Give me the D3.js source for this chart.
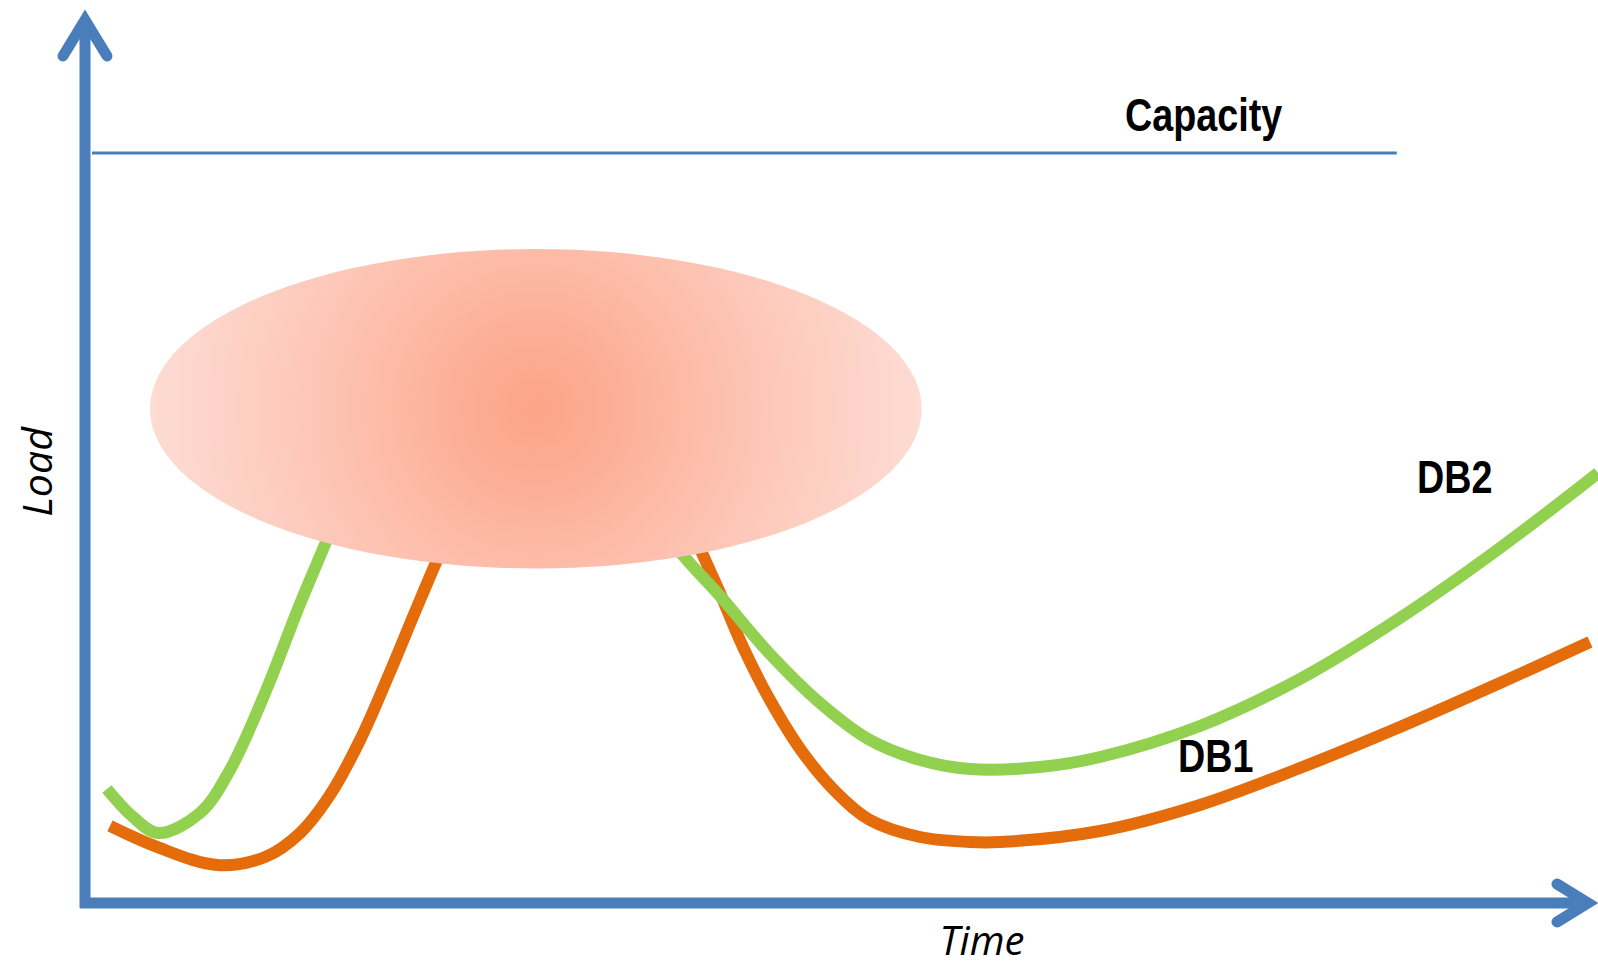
<!DOCTYPE html>
<html>
<head>
<meta charset="utf-8">
<script src="https://cdn.jsdelivr.net/npm/d3@7"></script>
<style>
  html, body { margin: 0; padding: 0; background: #ffffff; overflow: hidden; }
  svg { display: block; }
</style>
</head>
<body>
<svg id="chart" width="1598" height="964"></svg>
<script>
// ---- data (time 0..100, load 0..100 where 100 = capacity) ----
const db2Time = [1.45, 3.17, 4.82, 7.60, 9.58, 11.90, 14.21, 15.93, 17.51, 20.16, 24.12, 28.75, 34.04, 37.34,
                 39.79, 41.97, 45.27, 48.58, 51.88, 55.19, 58.49, 63.12, 67.09, 73.69, 80.30, 86.91, 93.52, 100];
const db2Load = [15.20, 11.47, 9.33, 12.00, 17.73, 28.00, 39.87, 48.13, 55.73, 65.73, 72.40, 71.07, 60.40, 51.73,
                 45.73, 40.93, 33.20, 26.67, 21.73, 19.07, 17.87, 18.13, 19.47, 23.60, 29.87, 38.00, 47.33, 57.33];
const db1Time = [1.65, 4.76, 8.72, 11.90, 14.21, 16.19, 18.18, 20.16, 21.81, 23.33, 24.79, 27.43, 31.39, 35.36, 38.66,
                 40.78, 41.97, 43.49, 45.27, 47.46, 49.70, 51.88, 55.19, 58.49, 60.48, 67.09, 73.69, 80.30, 86.91, 93.52, 99.47];
const db1Load = [10.27, 7.47, 5.07, 6.13, 9.33, 14.40, 21.73, 30.80, 38.80, 46.00, 52.40, 61.73, 67.07, 64.40, 56.40,
                 46.67, 41.33, 34.13, 27.07, 20.00, 14.67, 11.07, 8.80, 8.13, 8.13, 9.60, 13.07, 18.00, 23.47, 29.33, 34.80];
const capacityLoad = 100;
const capacityTime = [0.46, 86.7];
// hot-spot ellipse: centre time, centre load, half-width (time), half-height (load)
const hotSpot = [29.8, 65.9, 25.5, 21.3];
const labels = ["Capacity", "DB1", "DB2"];
const axisTitles = ["Time", "Load"];

// ---- scales ----
const x = d3.scaleLinear().domain([0, 100]).range([85, 1598]);
const y = d3.scaleLinear().domain([0, 100]).range([903, 153]);

const svg = d3.select("#chart");
const axisColor = "#4a7ebb";

// gradient for hot spot
const defs = svg.append("defs");
const cx = x(hotSpot[0]), cy = y(hotSpot[1]);
const rx = x(hotSpot[2]) - x(0), ry = y(0) - y(hotSpot[3]);
const grad = defs.append("radialGradient")
  .attr("id", "hot")
  .attr("gradientUnits", "userSpaceOnUse")
  .attr("cx", cx).attr("cy", cy).attr("r", rx)
  .attr("fx", cx).attr("fy", cy);
[[0, "#fca488"], [0.2, "#fcae96"], [0.45, "#fdbeab"], [0.7, "#fdccbf"], [1, "#fddcd3"]]
  .forEach(([o, c]) => grad.append("stop").attr("offset", o).attr("stop-color", c));

// capacity line
svg.append("line")
  .attr("x1", x(capacityTime[0])).attr("x2", x(capacityTime[1]))
  .attr("y1", y(capacityLoad)).attr("y2", y(capacityLoad))
  .attr("stroke", axisColor).attr("stroke-width", 3);

// series lines (DB1 under DB2)
const line = d3.line()
  .x(d => x(d[0])).y(d => y(d[1]))
  .curve(d3.curveCatmullRom.alpha(0.5));

svg.append("path")
  .datum(db1Time.map((t, i) => [t, db1Load[i]]))
  .attr("d", line)
  .attr("fill", "none").attr("stroke", "#e46c0a").attr("stroke-width", 12).attr("stroke-linecap", "butt");

svg.append("path")
  .datum(db2Time.map((t, i) => [t, db2Load[i]]))
  .attr("d", line)
  .attr("fill", "none").attr("stroke", "#92d050").attr("stroke-width", 12).attr("stroke-linecap", "butt");

// hot spot ellipse on top of the curves
svg.append("ellipse")
  .attr("cx", cx).attr("cy", cy).attr("rx", rx).attr("ry", ry)
  .attr("fill", "url(#hot)");

// axes (with arrows)
svg.append("line")
  .attr("x1", x(0)).attr("x2", x(0)).attr("y1", 908).attr("y2", 20)
  .attr("stroke", axisColor).attr("stroke-width", 11);
svg.append("polyline")
  .attr("points", `${x(0) - 22},56 ${x(0)},20 ${x(0) + 22},56`)
  .attr("fill", "none").attr("stroke", axisColor).attr("stroke-width", 11)
  .attr("stroke-linecap", "round").attr("stroke-linejoin", "miter").attr("stroke-miterlimit", 10);

svg.append("line")
  .attr("x1", 80).attr("x2", 1588).attr("y1", y(0)).attr("y2", y(0))
  .attr("stroke", axisColor).attr("stroke-width", 11);
svg.append("polyline")
  .attr("points", `1557,${y(0) - 19} 1588,${y(0)} 1557,${y(0) + 19}`)
  .attr("fill", "none").attr("stroke", axisColor).attr("stroke-width", 11)
  .attr("stroke-linecap", "round").attr("stroke-linejoin", "miter").attr("stroke-miterlimit", 10);

// labels (narrow bold face, emulated by horizontal scaling)
const labFont = "'Liberation Sans', Arial, sans-serif";
const labPos = [[1125, 131], [1178, 772], [1417, 493]];
labels.forEach((t, i) => {
  svg.append("text")
    .attr("transform", `translate(${labPos[i][0]},${labPos[i][1]}) scale(0.82,1)`)
    .attr("font-family", labFont).attr("font-weight", "bold").attr("font-size", 46)
    .attr("fill", "#000").text(t);
});

svg.append("text")
  .attr("x", 982).attr("y", 955).attr("text-anchor", "middle")
  .attr("font-family", "'Open Sans', sans-serif").attr("font-style", "italic").attr("font-size", 40)
  .attr("fill", "#000").text(axisTitles[0]);

svg.append("text")
  .attr("transform", "translate(52,472) rotate(-90)")
  .attr("text-anchor", "middle")
  .attr("font-family", "'Open Sans', sans-serif").attr("font-style", "italic").attr("font-size", 41)
  .attr("fill", "#000").text(axisTitles[1]);
</script>
</body>
</html>
